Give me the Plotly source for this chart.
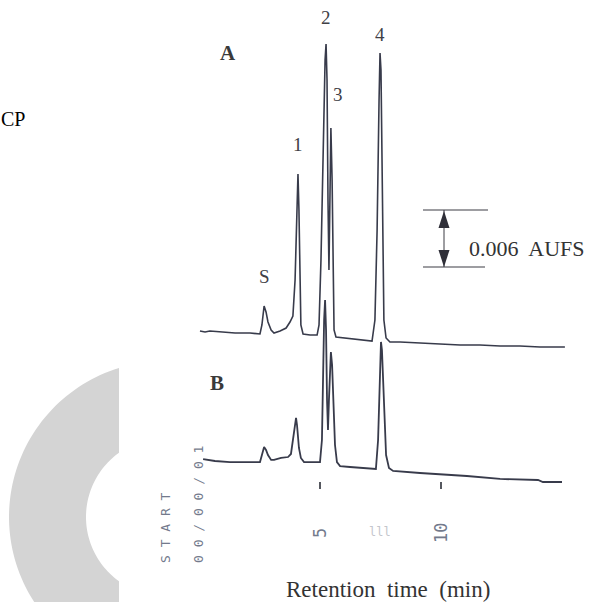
import numpy as np
import plotly.graph_objects as go

# ---------------- data ----------------
# Chromatogram A: retention time (min) and detector signal (mAU, relative to its start baseline)
time_a = [0.04, 0.25, 0.45, 0.95, 1.49, 2.11, 2.52, 2.60, 2.69, 2.77,
          2.85, 2.98, 3.10, 3.35, 3.60, 3.76, 3.88, 3.97, 4.05, 4.09,
          4.13, 4.17, 4.21, 4.30, 4.59, 4.88, 4.96, 5.04, 5.12, 5.21,
          5.25, 5.29, 5.33, 5.37, 5.41, 5.45, 5.50, 5.54, 5.58, 5.66,
          6.03, 6.65, 7.15, 7.27, 7.36, 7.44, 7.48, 7.52, 7.56, 7.60,
          7.64, 7.73, 7.89, 8.31, 9.13, 9.96, 10.79, 11.61, 12.44, 13.26,
          14.09, 15.12]
signal_a = [0.11, 0.00, 0.11, 0.00, -0.11, -0.11, -0.21, 0.74, 2.74, 2.11,
            1.05, 0.21, -0.11, 0.11, 0.42, 1.05, 1.68, 5.47, 13.89, 16.63,
            12.84, 4.42, 0.74, -0.21, -0.32, -0.32, 0.74, 7.58, 19.16, 28.63,
            30.32, 26.53, 13.89, 6.53, 13.89, 21.47, 16.00, 4.42, 0.21, -0.53,
            -0.63, -0.74, -0.95, 1.26, 10.74, 24.42, 29.37, 27.58, 19.16, 7.58,
            1.26, -0.63, -1.05, -1.05, -1.16, -1.26, -1.37, -1.37, -1.47, -1.47,
            -1.58, -1.58]

# Chromatogram B
time_b = [0.17, 0.66, 1.28, 2.11, 2.52, 2.60, 2.69, 2.77, 2.85, 2.98,
          3.10, 3.39, 3.68, 3.80, 3.88, 3.97, 4.01, 4.05, 4.13, 4.21,
          4.34, 4.79, 5.00, 5.08, 5.12, 5.17, 5.21, 5.25, 5.29, 5.33,
          5.37, 5.41, 5.45, 5.50, 5.54, 5.62, 5.70, 5.83, 6.24, 6.86,
          7.31, 7.40, 7.48, 7.52, 7.56, 7.64, 7.73, 7.85, 8.02, 9.13,
          10.00, 11.07, 12.44, 14.01, 14.21, 15.00]
signal_b = [0.21, 0.00, -0.11, -0.11, -0.11, 0.63, 1.47, 1.16, 0.63, 0.11,
            0.11, 0.32, 0.42, 0.74, 2.21, 4.11, 4.53, 3.79, 1.37, 0.32,
            -0.11, -0.11, -0.11, 2.21, 8.53, 14.84, 16.95, 13.79, 6.42, 3.26,
            6.42, 9.58, 11.47, 10.11, 6.42, 1.68, -0.11, -0.53, -0.63, -0.74,
            -0.84, 2.21, 9.58, 12.53, 11.68, 5.37, 0.63, -0.74, -1.05, -1.26,
            -1.37, -1.58, -1.89, -2.00, -2.21, -2.21]

peak_labels = ["S", "1", "2", "3", "4"]
tick_values = [5, 10]
tick_labels = ["5", "10"]
scale_bar_mau = 6.0          # 0.006 AUFS
scale_bar_text = "0.006  AUFS"

# ---------------- layout calibration ----------------
W, H = 591, 602
X0_PX, PX_PER_MIN = 199.0, 24.2
Y0_PX, PX_PER_MAU = 332.0, 9.5
B_OFFSET = -13.58            # vertical stacking offset of chromatogram B

x_range = [(0 - X0_PX) / PX_PER_MIN, (W - X0_PX) / PX_PER_MIN]
y_range = [(Y0_PX - H) / PX_PER_MAU, Y0_PX / PX_PER_MAU]

LINE = "#383b4b"
SERIF = "Liberation Serif, Times New Roman, serif"
MONO = "DejaVu Sans Mono, monospace"
MATRIX = "#737a8c"


def pp(x, y):
    return x / W, 1 - y / H


fig = go.Figure()
fig.add_trace(go.Scatter(x=time_a, y=signal_a, mode="lines",
                         line=dict(color=LINE, width=1.6), hoverinfo="skip"))
fig.add_trace(go.Scatter(x=time_b, y=[v + B_OFFSET for v in signal_b], mode="lines",
                         line=dict(color=LINE, width=1.8), hoverinfo="skip"))

shapes = []

# grey ring watermark on the left
cx, cy, ro, ri, xc = 165.0, 517.0, 156.0, 79.0, 119.0
ao = np.degrees(np.arccos((xc - cx) / ro))
ai = np.degrees(np.arccos((xc - cx) / ri))
outer = np.radians(np.linspace(360 - ao, ao, 80))
inner = np.radians(np.linspace(ai, 360 - ai, 60))
pts = [(cx + ro * np.cos(t), cy + ro * np.sin(t)) for t in outer] + \
      [(cx + ri * np.cos(t), cy + ri * np.sin(t)) for t in inner]
path = "M " + " L ".join(f"{pp(x, y)[0]:.5f},{pp(x, y)[1]:.5f}" for x, y in pts) + " Z"
shapes.append(dict(type="path", path=path, xref="paper", yref="paper",
                   fillcolor="#d4d4d4", line=dict(width=0), layer="below"))

# scale bar (data coordinates, 6 mAU tall)
bar_bottom = (Y0_PX - 267) / PX_PER_MAU
bar_top = bar_bottom + scale_bar_mau
shapes.append(dict(type="line", xref="x", yref="y", x0=(423 - X0_PX) / PX_PER_MIN,
                   x1=(488 - X0_PX) / PX_PER_MIN, y0=bar_top, y1=bar_top,
                   line=dict(color="#3c3c44", width=1.2)))
shapes.append(dict(type="line", xref="x", yref="y", x0=(423 - X0_PX) / PX_PER_MIN,
                   x1=(485 - X0_PX) / PX_PER_MIN, y0=bar_bottom, y1=bar_bottom,
                   line=dict(color="#3c3c44", width=1.2)))
bx = (444 - X0_PX) / PX_PER_MIN
shapes.append(dict(type="line", xref="x", yref="y", x0=bx, x1=bx, y0=bar_bottom, y1=bar_top,
                   line=dict(color="#3c3c44", width=1.0)))


def tri(apex, base_y, half=5.5):
    ax, ay = apex
    p = [pp(ax, ay), pp(ax - half, base_y), pp(ax + half, base_y)]
    return "M " + " L ".join(f"{a:.5f},{b:.5f}" for a, b in p) + " Z"


shapes.append(dict(type="path", path=tri((444, 211), 228), xref="paper", yref="paper",
                   fillcolor="#2f2f38", line=dict(width=0)))
shapes.append(dict(type="path", path=tri((444, 267), 250), xref="paper", yref="paper",
                   fillcolor="#2f2f38", line=dict(width=0)))

annotations = []


def txt(text, x, y, size, color="#3a3a3a", family=SERIF, bold=False, angle=0, xanchor="center"):
    px_, py_ = pp(x, y)
    annotations.append(dict(text=f"<b>{text}</b>" if bold else text, x=px_, y=py_,
                            xref="paper", yref="paper", showarrow=False,
                            xanchor=xanchor, yanchor="middle", textangle=angle,
                            font=dict(size=size, color=color, family=family)))


txt("CP", -1, 119, 20, color="#000000", xanchor="left")
txt("A", 228, 53, 21, bold=True)
txt("B", 217, 383, 21, bold=True)
label_pos = [(264, 276), (298, 145), (326, 18), (338, 95), (380, 35)]
for lab, (x, y) in zip(peak_labels, label_pos):
    txt(lab, x, y, 19, color="#404046")
txt(scale_bar_text, 467, 248, 22, color="#333333", xanchor="left")
txt("Retention  time  (min)", 388, 589, 23, color="#333333")

# dot-matrix printer marks
txt("S T A R T", 165, 528, 13, color=MATRIX, family=MONO, angle=-90)
txt("0 0 / 0 0 / 0 1", 198, 505, 13, color=MATRIX, family=MONO, angle=-90)
for v, lab in zip(tick_values, tick_labels):
    txt(lab, X0_PX + v * PX_PER_MIN, 533, 17, color=MATRIX, family=MONO, angle=-90)
txt("lll", 380, 532, 12, color="#c4c6cc", family=MONO)

fig.update_layout(
    width=W, height=H, autosize=False,
    margin=dict(l=0, r=0, t=0, b=0, pad=0),
    paper_bgcolor="white", plot_bgcolor="white",
    showlegend=False,
    shapes=shapes, annotations=annotations,
    xaxis=dict(range=x_range, showgrid=False, zeroline=False, showline=False,
               tickvals=tick_values, ticks="outside", ticklen=7, tickwidth=1.5,
               tickcolor="#55585f", showticklabels=False,
               anchor="free", position=1 - 481 / H, fixedrange=True),
    yaxis=dict(range=y_range, visible=False, fixedrange=True),
)

fig.write_html("out.html", config={"displayModeBar": False},
               post_script="document.body.style.margin='0';document.body.style.padding='0';"
                           "document.body.style.overflow='hidden';")
